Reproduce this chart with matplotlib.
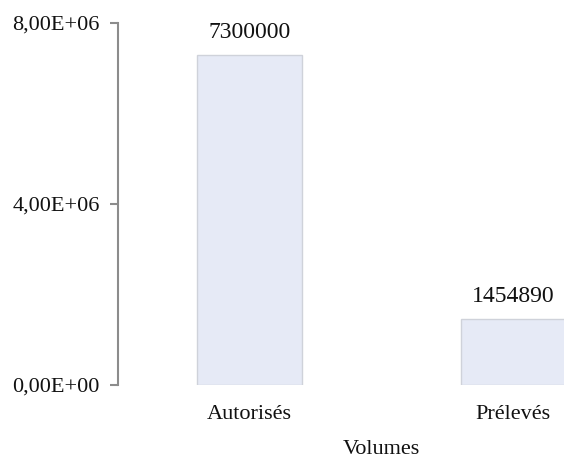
import matplotlib
matplotlib.use("Agg")
import matplotlib.pyplot as plt

categories = ["Autorisés", "Prélevés"]
values = [7300000, 1454890]
yticks = [0, 4e6, 8e6]
ytick_labels = ["0,00E+00", "4,00E+06", "8,00E+06"]
xlabel = "Volumes"

plt.rcParams['font.family'] = ['Liberation Serif', 'DejaVu Serif']

fig = plt.figure(figsize=(5.64, 4.63), dpi=100)
ax = fig.add_axes([118/564, 78/463, 527/564, 362/463])

x = list(range(len(categories)))
bars = ax.bar(x, values, width=0.4, color='#e6eaf6', edgecolor='#cfd2da', linewidth=1.0, zorder=2)

ax.set_xlim(-0.5, len(categories) - 0.5)
ax.set_ylim(0, 8e6)
ax.set_yticks(yticks)
ax.set_yticklabels(ytick_labels)
ax.set_xticks(x)
ax.set_xticklabels(categories)

for s in ['top', 'right', 'bottom']:
    ax.spines[s].set_visible(False)
ax.spines['left'].set_color('#8c8c8c')
ax.spines['left'].set_linewidth(1.5)

ax.tick_params(axis='y', direction='out', length=6, width=1.5, color='#8c8c8c',
               labelsize=16, pad=7, labelcolor='#111111')
ax.tick_params(axis='x', length=0, labelsize=16, pad=14.5, labelcolor='#111111')

for xi, v in zip(x, values):
    ax.annotate(f"{v}", (xi, v), xytext=(0, 16), textcoords='offset points',
                ha='center', va='center', fontsize=17, color='#111111')

ax.set_xlabel(xlabel, fontsize=16, labelpad=11.5, color='#111111')

fig.savefig("out.png", dpi=100)
